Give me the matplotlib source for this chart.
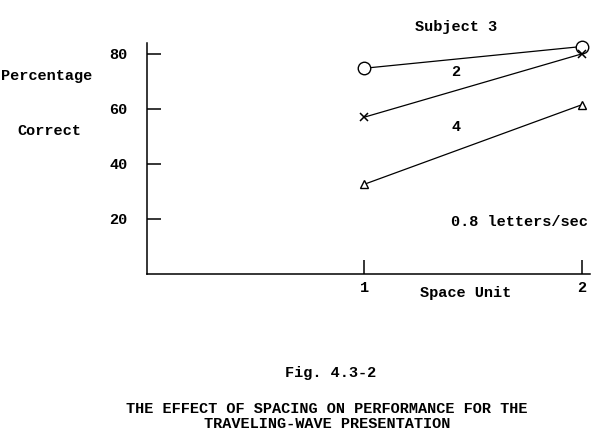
import matplotlib
matplotlib.use("Agg")
import matplotlib.pyplot as plt

space_units = [1, 2]
subject3 = [74.8, 82.7]
subject2 = [57.0, 80.0]
subject4 = [32.6, 61.5]
yticks = [20, 40, 60, 80]
xticks = [1, 2]

plt.rcParams['font.family'] = ['Liberation Mono', 'DejaVu Sans Mono']
fs = 11
fw = 'bold'

fig = plt.figure(figsize=(6, 4.32), dpi=100)
ax = fig.add_axes([146.7 / 600, 1 - 274 / 432, 443.5 / 600, 231.3 / 432])
ax.set_xlim(0.0, 2.04)
ax.set_ylim(0, 84.1)

ax.plot(space_units, subject3, color='black', lw=0.9, marker='o', ms=9,
        mfc='white', mec='black', mew=1.0, clip_on=False, zorder=3)
ax.plot(space_units, subject2, color='black', lw=0.9, marker='x', ms=6, mew=1.1,
        clip_on=False, zorder=4)
ax.plot(space_units, subject4, color='black', lw=0.9, marker='^', ms=6,
        mfc='white', mec='black', mew=1.0, clip_on=False, zorder=3)

for s in ['top', 'right']:
    ax.spines[s].set_visible(False)
for s in ['left', 'bottom']:
    ax.spines[s].set_linewidth(1.1)

ax.set_yticks(yticks)
ax.set_xticks(xticks)
ax.tick_params(axis='both', direction='in', length=10, width=1.1, labelsize=fs)
ax.tick_params(axis='y', pad=14)
ax.tick_params(axis='x', pad=5)
for lab in ax.get_xticklabels() + ax.get_yticklabels():
    lab.set_fontweight(fw)

ax.text(1.423, 89.8, 'Subject 3', fontsize=fs, fontweight=fw, ha='center', va='center', clip_on=False)
ax.text(1.423, 73.6, '2', fontsize=fs, fontweight=fw, ha='center', va='center')
ax.text(1.423, 53.3, '4', fontsize=fs, fontweight=fw, ha='center', va='center')
ax.text(1.713, 19.0, '0.8 letters/sec', fontsize=fs, fontweight=fw, ha='center', va='center')
ax.text(1.469, -6.9, 'Space Unit', fontsize=fs, fontweight=fw, ha='center', va='center', clip_on=False)

fig.text(47 / 600, 1 - 76 / 432, 'Percentage', fontsize=fs, fontweight=fw, ha='center', va='center')
fig.text(49 / 600, 1 - 130.7 / 432, 'Correct', fontsize=fs, fontweight=fw, ha='center', va='center')

fig.text(331 / 600, 1 - 373.3 / 432, 'Fig. 4.3-2', fontsize=fs, fontweight=fw, ha='center', va='center')
fig.text(327 / 600, 1 - 409 / 432, 'THE EFFECT OF SPACING ON PERFORMANCE FOR THE',
         fontsize=fs, fontweight=fw, ha='center', va='center')
fig.text(327.5 / 600, 1 - 424 / 432, 'TRAVELING-WAVE PRESENTATION',
         fontsize=fs, fontweight=fw, ha='center', va='center')

fig.savefig('out.png', dpi=100)
